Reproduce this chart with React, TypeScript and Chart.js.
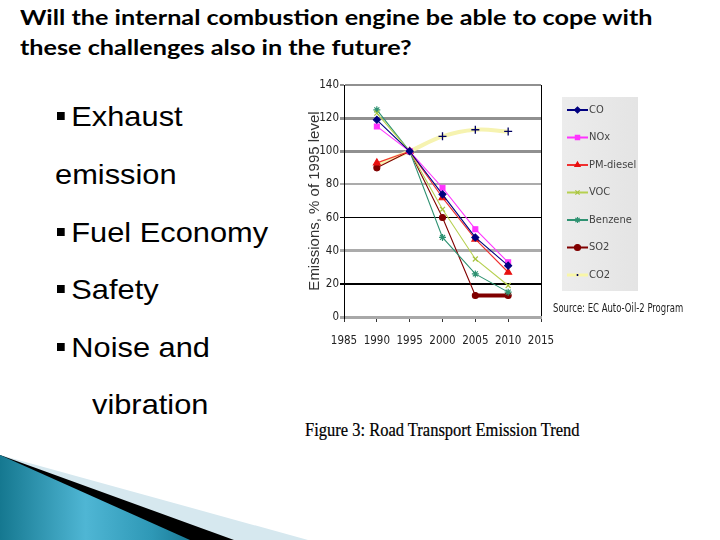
import React, { useEffect, useRef } from 'react';
import { Chart, registerables } from 'chart.js';
import { drawPoint } from 'chart.js/helpers';

Chart.register(...registerables);

// ---------- data ----------
const years = [1990, 1995, 2000, 2005, 2010];
const seriesNames = ['CO', 'NOx', 'PM-diesel', 'VOC', 'Benzene', 'SO2', 'CO2'];
const coValues = [119, 100, 74, 48, 31];
const noxValues = [115, 100, 78, 53, 33];
const pmValues = [93, 100, 72, 47, 27];
const vocValues = [123, 100, 65, 35, 19];
const benzeneValues = [125, 100, 48, 26, 15];
const so2Values = [90, 100, 60, 13, 13];
const co2Values = [92, 100, 109, 113, 112];
const xTickValues = [1985, 1990, 1995, 2000, 2005, 2010, 2015];
const yTickValues = [0, 20, 40, 60, 80, 100, 120, 140];
const yAxisTitle = 'Emissions, % of 1995 level';
const sourceText = 'Source: EC Auto-Oil-2 Program';
const slideTitle = [
  'Will the internal combustion engine be able to cope with',
  'these challenges also in the future?',
];
const bullets = ['Exhaust', 'emission', 'Fuel Economy', 'Safety', 'Noise and', 'vibration'];
const caption = 'Figure 3: Road Transport Emission Trend';

const NARROW = "'Liberation Sans Narrow', 'DejaVu Sans Condensed', 'Liberation Sans', Arial, sans-serif";

const toPoints = (vals: number[]) => years.map((x, i) => ({ x, y: vals[i] }));

const gridColor = (v: number) => (v === 60 || v === 20 ? '#000000' : v === 0 ? '#a8a8a8' : v === 40 || v === 80 ? '#ababab' : '#909090');
const gridWidth = (v: number) => {
  if (v === 140) return 2;
  if (v === 120 || v === 100) return 3;
  if (v === 80) return 2;
  if (v === 60) return 1;
  if (v === 40) return 3;
  if (v === 20) return 2;
  return 3;
};

const legendPlugin = {
  id: 'boxLegend',
  afterDraw(chart: any) {
    const ctx = chart.ctx as CanvasRenderingContext2D;
    ctx.save();
    const g = ctx.createLinearGradient(262, 0, 338, 0);
    g.addColorStop(0, '#ececec');
    g.addColorStop(1, '#e4e4e4');
    ctx.fillStyle = g;
    ctx.fillRect(262, 22, 76, 194);
    chart.data.datasets.forEach((ds: any, i: number) => {
      const y = 35 + i * 27.5;
      ctx.strokeStyle = ds.legendLine || ds.borderColor;
      ctx.lineWidth = ds.legendLineWidth || 2;
      ctx.beginPath();
      ctx.moveTo(267, y);
      ctx.lineTo(288, y);
      ctx.stroke();
      ctx.fillStyle = ds.pointBackgroundColor;
      ctx.strokeStyle = ds.pointBorderColor;
      ctx.lineWidth = 1.2;
      drawPoint(ctx, { pointStyle: ds.pointStyle, radius: ds.legendRadius || 3, borderWidth: 1.2, rotation: 0 }, 277.5, y);
      ctx.fillStyle = '#444';
      ctx.font = `11px ${NARROW}`;
      ctx.textBaseline = 'middle';
      ctx.textAlign = 'left';
      ctx.fillText(ds.label, 289, y);
    });
    ctx.restore();
  },
};

export default function App() {
  const ref = useRef<HTMLCanvasElement>(null);

  useEffect(() => {
    const datasets: any[] = [
      {
        label: seriesNames[0], data: toPoints(coValues), borderColor: '#000080', borderWidth: 1.1,
        pointStyle: 'rectRot', pointRadius: 3.5, pointBackgroundColor: '#000080', pointBorderColor: '#000080',
      },
      {
        label: seriesNames[1], data: toPoints(noxValues), borderColor: '#ff33ff', borderWidth: 1.1,
        pointStyle: 'rect', pointRadius: 3.5, pointBackgroundColor: '#ff33ff', pointBorderColor: '#ff33ff',
      },
      {
        label: seriesNames[2], data: toPoints(pmValues), borderColor: '#f03030', borderWidth: 1.1,
        pointStyle: 'triangle', pointRadius: 4, pointBackgroundColor: '#e81010', pointBorderColor: '#e81010',
      },
      {
        label: seriesNames[3], data: toPoints(vocValues), borderColor: '#b6d050', borderWidth: 1.1,
        pointStyle: 'crossRot', pointRadius: 3.5, pointBackgroundColor: '#b6d050', pointBorderColor: '#a8c440', pointBorderWidth: 1.2,
      },
      {
        label: seriesNames[4], data: toPoints(benzeneValues), borderColor: '#2f9272', borderWidth: 1.1,
        pointStyle: 'star', pointRadius: 3.5, pointBackgroundColor: '#2f9272', pointBorderColor: '#2f9272', pointBorderWidth: 1.2,
      },
      {
        label: seriesNames[5], data: toPoints(so2Values), borderColor: '#800000', borderWidth: 1.1,
        pointStyle: 'circle', pointRadius: 3, pointBackgroundColor: '#800000', pointBorderColor: '#800000',
        segment: { borderWidth: (c: any) => (c.p0DataIndex === 3 ? 4 : 1.1) },
      },
      {
        label: seriesNames[6], data: toPoints(co2Values), borderColor: '#f6f3b0', borderWidth: 4, tension: 0.4,
        pointStyle: 'cross', pointRadius: (c: any) => (c.dataIndex >= 2 ? 4 : 0),
        pointBackgroundColor: '#000060', pointBorderColor: '#000060', pointBorderWidth: 1.3,
        legendLine: '#f8f6a8', legendLineWidth: 3, legendRadius: 1,
      },
    ];

    const chart = new Chart(ref.current!, {
      type: 'line',
      data: { datasets },
      plugins: [legendPlugin],
      options: {
        animation: false,
        responsive: true,
        maintainAspectRatio: false,
        layout: { padding: { top: 10, right: 159, left: 0, bottom: 0 } },
        plugins: { legend: { display: false }, tooltip: { enabled: false }, title: { display: false } },
        elements: { line: { fill: false } },
        scales: {
          x: {
            type: 'linear',
            min: xTickValues[0],
            max: xTickValues[xTickValues.length - 1],
            afterBuildTicks: (s: any) => { s.ticks = xTickValues.map((v) => ({ value: v })); },
            afterFit: (s: any) => { s.height = 38; },
            ticks: {
              callback: (v: any) => String(v),
              color: '#222',
              font: { family: NARROW, size: 11.5 },
              padding: 12,
              maxRotation: 0,
              autoSkip: false,
            },
            grid: {
              color: (c: any) => (c.tick && c.tick.value === 2015 ? '#000' : 'rgba(0,0,0,0)'),
              tickColor: '#333',
              tickLength: 5,
              lineWidth: 1,
              drawOnChartArea: true,
            },
            border: { color: '#a8a8a8', width: 3 },
          },
          y: {
            min: 0,
            max: 140,
            afterBuildTicks: (s: any) => { s.ticks = yTickValues.map((v) => ({ value: v })); },
            afterFit: (s: any) => { s.width = 44; },
            ticks: {
              color: '#222',
              font: { family: NARROW, size: 11.5 },
              padding: 1,
              autoSkip: false,
            },
            grid: {
              color: (c: any) => gridColor(c.tick ? c.tick.value : 0),
              lineWidth: (c: any) => gridWidth(c.tick ? c.tick.value : 0),
              tickLength: 4,
            },
            border: { color: '#000', width: 1 },
            title: {
              display: true,
              text: yAxisTitle,
              color: '#333',
              font: { family: "'Liberation Sans', Arial, sans-serif", size: 15 },
              padding: { top: 6, bottom: 0 },
            },
          },
        },
      },
    } as any);
    return () => chart.destroy();
  }, []);

  const bulletTops = [103, 161, 219, 276, 334, 391];
  const bulletLefts = [72, 55, 72, 72, 72, 92];
  const hasMark = [true, false, true, true, true, false];

  return (
    <div style={{ position: 'absolute', left: 0, top: 0, width: 720, height: 540, background: '#fff', overflow: 'hidden' }}>
      <svg width={720} height={540} style={{ position: 'absolute', left: 0, top: 0 }}>
        <defs>
          <linearGradient id="teal" x1="0" y1="0" x2="1" y2="0">
            <stop offset="0" stopColor="#157890" />
            <stop offset="0.45" stopColor="#4fb6d4" />
            <stop offset="0.8" stopColor="#2e98b6" />
            <stop offset="1" stopColor="#1a7a96" />
          </linearGradient>
        </defs>
        <polygon points="0,455 308,540 0,540" fill="#d6e8ef" />
        <polygon points="0,455 234,540 0,540" fill="#000" />
        <polygon points="0,455 190,540 0,540" fill="url(#teal)" />
      </svg>

      <div style={{ position: 'absolute', left: 20, top: 2, fontFamily: "Lato, 'Open Sans', sans-serif", fontWeight: 700, fontSize: 21, lineHeight: '30px', color: '#000', whiteSpace: 'nowrap', transform: 'scaleX(1.2)', transformOrigin: 'left top' }}>
        {slideTitle.map((t, i) => (<div key={i}>{t}</div>))}
      </div>

      {bullets.map((b, i) => (
        <div key={i} style={{ position: 'absolute', left: hasMark[i] ? 57 : bulletLefts[i], top: bulletTops[i], fontFamily: "'Liberation Sans', Arial, sans-serif", fontSize: 28, lineHeight: '28px', whiteSpace: 'nowrap', color: '#000', transform: 'scaleX(1.1)', transformOrigin: 'left center' }}>
          {hasMark[i] ? (<span style={{ display: 'inline-block', width: 7, height: 8, background: '#000', marginRight: 6, verticalAlign: 'middle', position: 'relative', top: -3 }} />) : null}
          {b}
        </div>
      ))}

      <div style={{ position: 'absolute', left: 300, top: 75, width: 400, height: 280 }}>
        <canvas ref={ref} />
      </div>

      <div style={{ position: 'absolute', left: 553, top: 301, fontFamily: NARROW, fontSize: 11.5, color: '#222', whiteSpace: 'nowrap', transform: 'scaleX(0.82)', transformOrigin: 'left top' }}>{sourceText}</div>

      <div style={{ position: 'absolute', left: 305, top: 418, fontFamily: "'Liberation Serif', 'Times New Roman', serif", fontSize: 16.5, lineHeight: '20px', color: '#000', whiteSpace: 'nowrap', transform: 'scaleY(1.17)', transformOrigin: 'left top', WebkitTextStroke: '0.2px #000' }}>{caption}</div>
    </div>
  );
}
